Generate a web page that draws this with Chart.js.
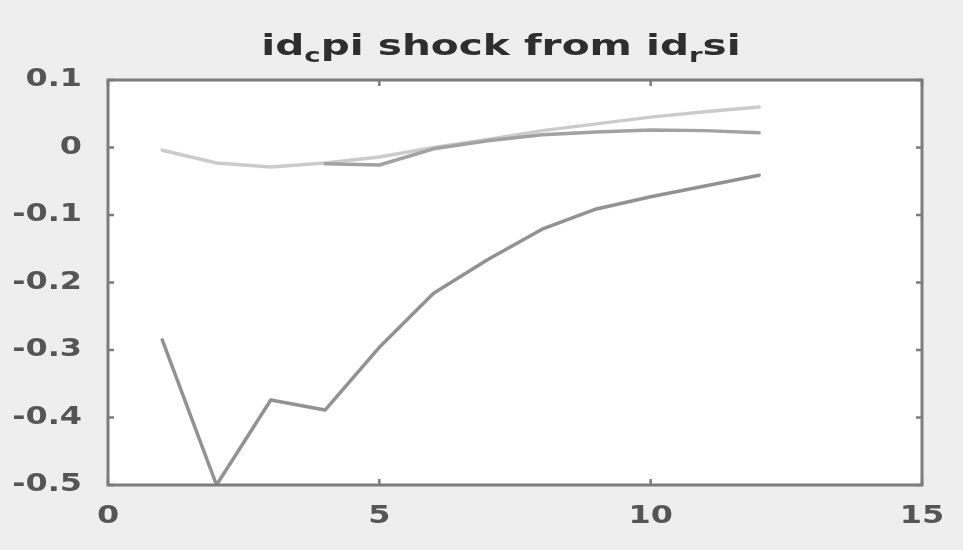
<!DOCTYPE html>
<html>
<head>
<meta charset="utf-8">
<script src="https://cdn.jsdelivr.net/npm/chart.js@4"></script>
<style>
  html, body { margin: 0; padding: 0; background: #eeeeee; }
  #wrap { width: 963px; height: 550px; position: relative; }
</style>
</head>
<body>
<div id="wrap"><canvas id="c" width="963" height="550"></canvas></div>
<script>
// Horizon (periods after the shock)
const periods = [1, 2, 3, 4, 5, 6, 7, 8, 9, 10, 11, 12];

// Response of id_c pi to an id_r si shock
const responseMain = [-0.285, -0.5, -0.374, -0.389, -0.296, -0.216, -0.166, -0.121, -0.091, -0.073, -0.057, -0.041];
const responseUpper = [-0.004, -0.023, -0.029, -0.023, -0.014, 0.000, 0.012, 0.025, 0.035, 0.045, 0.053, 0.060];
const responseMid = [null, null, null, -0.024, -0.026, -0.002, 0.010, 0.019, 0.023, 0.026, 0.025, 0.022];

// Axis ticks
const xTicks = [0, 5, 10, 15];
const yTicks = [0.1, 0, -0.1, -0.2, -0.3, -0.4, -0.5];

const toPoints = (vals) => periods
  .map((p, i) => ({ x: p, y: vals[i] }))
  .filter(pt => pt.y !== null);

const axisColor = '#7c7c7c';
const labelColor = '#555555';
const labelFont = { family: 'DejaVu Sans', size: 24, weight: 'bold' };
const glyphStretch = 1.33;

// Plot box with inward tick marks on all four sides, plus subscripted title
const boxPlugin = {
  id: 'matlabBox',
  beforeDraw(chart) {
    const { ctx, chartArea: a } = chart;
    ctx.save();
    ctx.fillStyle = '#ffffff';
    ctx.fillRect(a.left, a.top, a.right - a.left, a.bottom - a.top);
    ctx.restore();
    // widen tick-label glyphs around their anchor point while the axes draw
    const proto = Object.getPrototypeOf(ctx);
    ctx.fillText = function (text, x, y) {
      this.save();
      this.translate(x, y);
      this.scale(glyphStretch, 1);
      proto.fillText.call(this, text, 0, 0);
      this.restore();
    };
  },
  beforeDatasetsDraw(chart) {
    delete chart.ctx.fillText;
  },
  afterDraw(chart) {
    const { ctx, chartArea: a, scales } = chart;
    delete ctx.fillText;
    ctx.save();
    ctx.strokeStyle = axisColor;
    ctx.lineWidth = 3;
    ctx.strokeRect(a.left, a.top, a.right - a.left, a.bottom - a.top);
    ctx.lineWidth = 2.5;
    const tl = 6;
    scales.x.ticks.forEach(t => {
      const px = scales.x.getPixelForValue(t.value);
      ctx.beginPath();
      ctx.moveTo(px, a.bottom); ctx.lineTo(px, a.bottom - tl);
      ctx.moveTo(px, a.top); ctx.lineTo(px, a.top + tl);
      ctx.stroke();
    });
    scales.y.ticks.forEach(t => {
      const py = scales.y.getPixelForValue(t.value);
      ctx.beginPath();
      ctx.moveTo(a.left, py); ctx.lineTo(a.left + tl, py);
      ctx.moveTo(a.right, py); ctx.lineTo(a.right - tl, py);
      ctx.stroke();
    });

    // Title: id_c pi shock from id_r si (drawn horizontally widened)
    const parts = [
      { t: 'id', sub: false }, { t: 'c', sub: true },
      { t: 'pi shock from id', sub: false }, { t: 'r', sub: true },
      { t: 'si', sub: false }
    ];
    const mainF = 'bold 28px "DejaVu Sans"';
    const subF = 'bold 19px "DejaVu Sans"';
    const sx = 1.45;
    let total = 0;
    parts.forEach(p => { ctx.font = p.sub ? subF : mainF; p.w = ctx.measureText(p.t).width; total += p.w; });
    ctx.translate(501 - (total * sx) / 2, 55);
    ctx.scale(sx, 1);
    let x = 0;
    ctx.fillStyle = '#2e2e2e';
    ctx.textBaseline = 'alphabetic';
    parts.forEach(p => {
      ctx.font = p.sub ? subF : mainF;
      ctx.fillText(p.t, x, p.sub ? 7 : 0);
      x += p.w;
    });
    ctx.restore();
  }
};

new Chart(document.getElementById('c'), {
  type: 'scatter',
  data: {
    datasets: [
      { data: toPoints(responseMid), borderColor: '#a2a2a2', showLine: true },
      { data: toPoints(responseUpper), borderColor: '#cbcbcb', showLine: true },
      { data: toPoints(responseMain), borderColor: '#929292', showLine: true }
    ]
  },
  options: {
    responsive: false,
    animation: false,
    devicePixelRatio: 1,
    layout: { padding: { left: 0, right: 41, top: 80, bottom: 0 } },
    elements: {
      point: { radius: 0, hoverRadius: 0 },
      line: { borderWidth: 3.5, tension: 0, borderJoinStyle: 'round', borderCapStyle: 'round' }
    },
    plugins: { legend: { display: false }, tooltip: { enabled: false }, title: { display: false } },
    scales: {
      x: {
        type: 'linear', min: 0, max: 15,
        afterBuildTicks: s => { s.ticks = xTicks.map(v => ({ value: v })); },
        afterFit: s => { s.height = 65; },
        grid: { display: false }, border: { display: false },
        ticks: { color: labelColor, font: labelFont, padding: 9, maxRotation: 0 }
      },
      y: {
        type: 'linear', min: -0.5, max: 0.1,
        afterBuildTicks: s => { s.ticks = yTicks.map(v => ({ value: v })); },
        afterFit: s => { s.width = 108; },
        grid: { display: false }, border: { display: false },
        ticks: { color: labelColor, font: labelFont, padding: 18,
          callback: v => String(Math.round(v * 10) / 10) }
      }
    }
  },
  plugins: [boxPlugin]
});
</script>
</body>
</html>
